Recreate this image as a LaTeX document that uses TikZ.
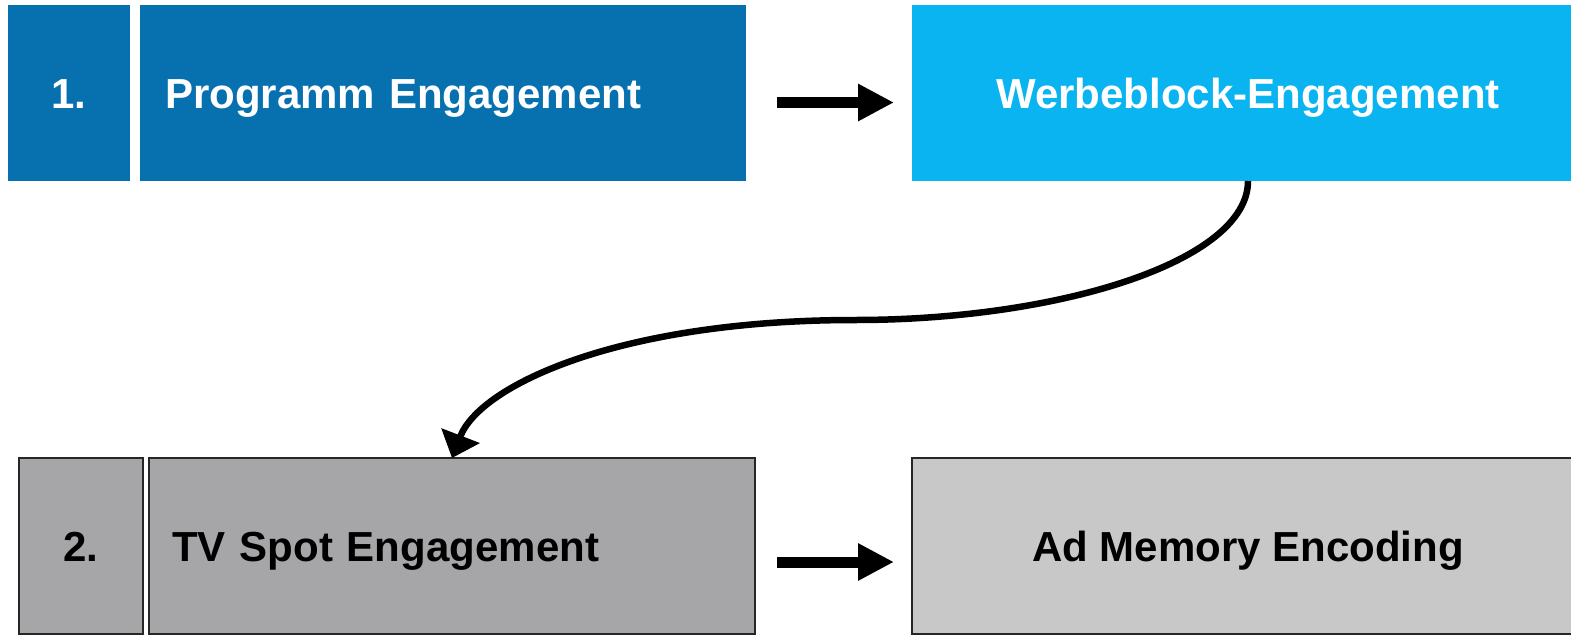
\documentclass[tikz,border=0pt]{standalone}
\usepackage{fontspec}
\setmainfont{Liberation Sans}
\usetikzlibrary{arrows.meta}
\definecolor{dblue}{RGB}{7,112,175}
\definecolor{lblue}{RGB}{9,180,240}
\definecolor{mgray}{RGB}{166,166,168}
\definecolor{lgray}{RGB}{200,200,200}
\tikzset{
  box/.style={rectangle, inner sep=0pt, outer sep=0pt, text height=30pt, text depth=0pt, font=\fontsize{42}{48}\selectfont\bfseries},
  bluebox/.style={box, text=white},
  graybox/.style={box, draw=black!85, line width=1.5pt, text=black},
  blockarrow/.style={line width=11pt, -{Triangle[length=36pt,width=35pt]}},
  curvearrow/.style={line width=6.5pt, -{Triangle[length=24pt,width=40pt]}}
}
\begin{document}
\begin{tikzpicture}[x=1pt,y=-1pt]
\useasboundingbox (0,0) rectangle (1571,637);
\clip (0,0) rectangle (1571,637);
% top row
\node[bluebox, fill=dblue, minimum width=122pt, minimum height=176pt] (n1) at (69,93) {1.};
\node[bluebox, fill=dblue, minimum width=606pt, minimum height=176pt, text width=584pt, align=left] (pe) at (443,93) {\hspace*{14pt}Programm Engagement};
\node[bluebox, fill=lblue, minimum width=672pt, minimum height=176pt] (we) at (1248,93) {Werbeblock-Engagement};
% bottom row
\node[graybox, fill=mgray, minimum width=124pt, minimum height=176pt] (n2) at (81,546) {2.};
\node[graybox, fill=mgray, minimum width=606pt, minimum height=176pt, text width=584pt, align=left] (tv) at (452,546) {\hspace*{12pt}TV Spot Engagement};
\node[graybox, fill=lgray, minimum width=672pt, minimum height=176pt] (ad) at (1248,546) {Ad Memory Encoding};
% arrows
\draw[blockarrow, shorten <=31pt, shorten >=18pt] ([yshift=-9.5pt]pe.east) -- ([yshift=-9.5pt]we.west);
\draw[blockarrow, shorten <=22pt, shorten >=18pt] ([yshift=-16pt]tv.east) -- ([yshift=-16pt]ad.west);
\coordinate (mid) at (855,320);
\coordinate (tip) at (452,458);
\draw[curvearrow] (we.south) .. controls +(0,80) and (1060,320) .. (mid) .. controls (620,320) and (480,385) .. (tip);
\end{tikzpicture}
\end{document}
